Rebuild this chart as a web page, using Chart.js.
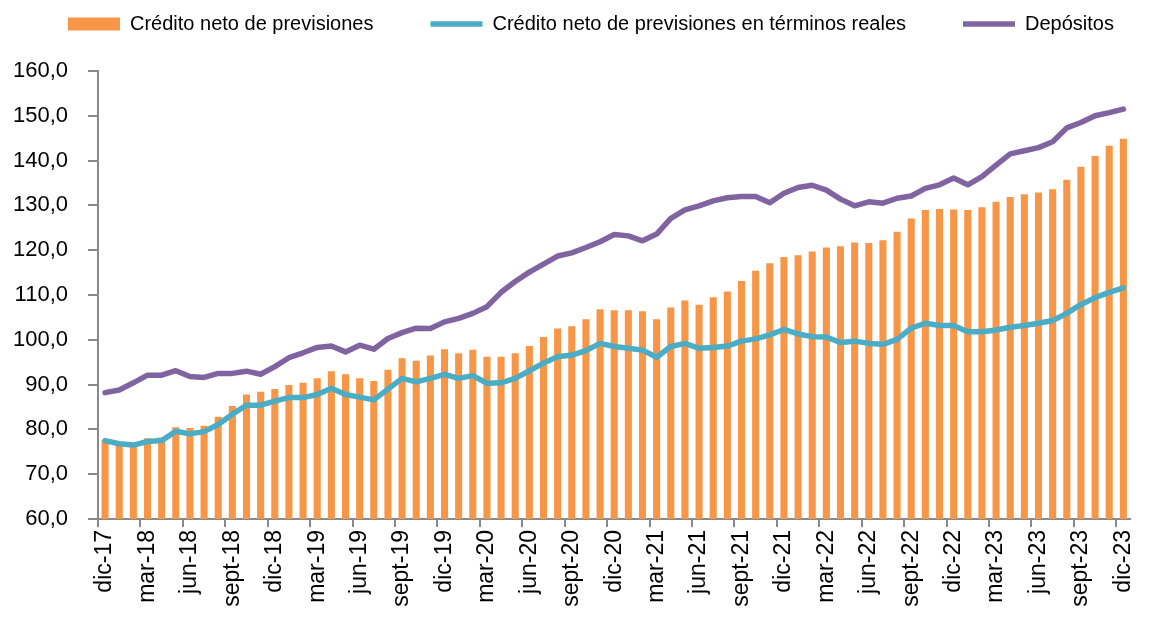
<!DOCTYPE html>
<html>
<head>
<meta charset="utf-8">
<script src="https://cdn.jsdelivr.net/npm/chart.js@4.4.1/dist/chart.umd.min.js"></script>
<style>
	html, body { margin: 0; padding: 0; background: #fff; }
	#wrap { width: 1154px; height: 621px; }
</style>
</head>
<body>
<div id="wrap"><canvas id="chart-1"></canvas></div>
<script>
const months = [
	"dic-17", "ene-18", "feb-18", "mar-18", "abr-18", "may-18", "jun-18", "jul-18", "ago-18", "sept-18", "oct-18", "nov-18",
	"dic-18", "ene-19", "feb-19", "mar-19", "abr-19", "may-19", "jun-19", "jul-19", "ago-19", "sept-19", "oct-19", "nov-19",
	"dic-19", "ene-20", "feb-20", "mar-20", "abr-20", "may-20", "jun-20", "jul-20", "ago-20", "sept-20", "oct-20", "nov-20",
	"dic-20", "ene-21", "feb-21", "mar-21", "abr-21", "may-21", "jun-21", "jul-21", "ago-21", "sept-21", "oct-21", "nov-21",
	"dic-21", "ene-22", "feb-22", "mar-22", "abr-22", "may-22", "jun-22", "jul-22", "ago-22", "sept-22", "oct-22", "nov-22",
	"dic-22", "ene-23", "feb-23", "mar-23", "abr-23", "may-23", "jun-23", "jul-23", "ago-23", "sept-23", "oct-23", "nov-23",
	"dic-23"
];

const creditoNeto = [
	77.6, 76.5, 76.7, 78.0, 78.2, 80.5, 80.3, 80.8, 82.8, 85.2, 87.8, 88.4,
	89.0, 89.9, 90.4, 91.4, 93.0, 92.3, 91.4, 90.8, 93.3, 95.9, 95.3, 96.5,
	97.9, 97.0, 97.8, 96.2, 96.2, 97.0, 98.6, 100.6, 102.5, 103.0, 104.6, 106.8,
	106.6, 106.6, 106.4, 104.6, 107.2, 108.8, 107.8, 109.5, 110.8, 113.1, 115.4, 117.1,
	118.5, 118.9, 119.7, 120.6, 120.9, 121.7, 121.6, 122.2, 124.1, 127.1, 129.0, 129.2,
	129.1, 129.0, 129.6, 130.8, 131.9, 132.5, 132.9, 133.6, 135.7, 138.6, 141.0, 143.3,
	144.9
];

const creditoReal = [
	77.5, 76.8, 76.5, 77.3, 77.5, 79.6, 79.0, 79.5, 81.1, 83.4, 85.4, 85.4,
	86.3, 87.1, 87.1, 87.8, 89.2, 87.8, 87.2, 86.6, 89.0, 91.4, 90.6, 91.4,
	92.3, 91.4, 92.0, 90.3, 90.4, 91.4, 93.1, 94.8, 96.2, 96.6, 97.6, 99.2,
	98.5, 98.1, 97.7, 96.1, 98.5, 99.2, 98.1, 98.3, 98.6, 99.7, 100.2, 101.1,
	102.3, 101.3, 100.7, 100.6, 99.4, 99.7, 99.2, 99.0, 100.1, 102.6, 103.7, 103.2,
	103.2, 101.8, 101.8, 102.2, 102.8, 103.2, 103.7, 104.3, 105.9, 107.9, 109.4, 110.6,
	111.6
];

const depositos = [
	88.2, 88.8, 90.4, 92.1, 92.1, 93.1, 91.8, 91.6, 92.5, 92.5, 93.0, 92.3,
	94.0, 96.0, 97.1, 98.3, 98.6, 97.3, 98.8, 97.9, 100.3, 101.6, 102.6, 102.5,
	104.0, 104.8, 105.9, 107.4, 110.6, 113.0, 115.1, 116.9, 118.7, 119.4, 120.6, 121.9,
	123.5, 123.2, 122.1, 123.6, 127.1, 129.0, 129.9, 131.0, 131.7, 132.0, 132.0, 130.6,
	132.7, 134.0, 134.5, 133.4, 131.4, 129.9, 130.8, 130.5, 131.6, 132.1, 133.8, 134.6,
	136.1, 134.6, 136.4, 139.0, 141.5, 142.2, 142.9, 144.2, 147.3, 148.5, 150.0, 150.7,
	151.5
];

const FONT = "'Liberation Sans', Arial, sans-serif";
const AXIS_GRAY = "#898989";

//one legend row, wide gaps, and a tall box so the plot starts where the original does
const legendFit = {
	id: "legendFit",
	beforeLayout(chart) {
		const legend = chart.legend;
		if (!legend || legend._patched) return;
		const fit = legend.fit;
		legend.fit = function () {
			const mw = this.maxWidth;
			this.maxWidth = 5000;//no wrapping
			fit.call(this);
			this.maxWidth = mw;
			this.width = mw;
			this.height = 114;
		};
		legend._patched = true;
	},
	afterLayout(chart) {
		chart.legend.left = 11;//first item starts at left + padding
		chart.legend.right = 5000;
	}
};

new Chart("chart-1", {
	type: "bar",
	data: {
		labels: months,
		datasets: [
			{
				label: "Crédito neto de previsiones",
				data: creditoNeto,
				backgroundColor: "#F79646",
				borderWidth: 0,
				barPercentage: 0.5,
				categoryPercentage: 1,
				pointStyle: "rect",
				order: 3
			},
			{
				type: "line",
				label: "Crédito neto de previsiones en términos reales",
				data: creditoReal,
				borderColor: "#4BACC6",
				backgroundColor: "#4BACC6",
				borderWidth: 5.5,
				borderCapStyle: "round",
				borderJoinStyle: "round",
				pointRadius: 0,
				pointStyle: "line",
				tension: 0,
				order: 2
			},
			{
				type: "line",
				label: "Depósitos",
				data: depositos,
				borderColor: "#8064A2",
				backgroundColor: "#8064A2",
				borderWidth: 5.5,
				borderCapStyle: "round",
				borderJoinStyle: "round",
				pointRadius: 0,
				pointStyle: "line",
				tension: 0,
				order: 1
			}
		]
	},
	options: {
		responsive: true,
		maintainAspectRatio: false,
		animation: false,
		layout: { padding: { top: -43, left: 0, right: 6, bottom: 0 } },
		plugins: {
			legend: {
				position: "top",
				align: "start",
				labels: {
					usePointStyle: true,
					pointStyleWidth: 52,
					boxHeight: 13,
					padding: 57,
					color: "#000",
					font: { family: FONT, size: 20 },
					sort: (a, b) => a.datasetIndex - b.datasetIndex
				}
			},
			tooltip: { enabled: false }
		},
		scales: {
			x: {
				offset: true,
				grid: {
					offset: true,
					drawOnChartArea: false,
					tickLength: 8,
					lineWidth: 2,
					tickColor: (ctx) => (ctx.index % 3 === 0 && ctx.index < months.length) ? AXIS_GRAY : "rgba(0,0,0,0)"
				},
				border: { color: AXIS_GRAY, width: 2 },
				ticks: {
					autoSkip: false,
					minRotation: 90,
					maxRotation: 90,
					padding: 3,
					color: "#000",
					font: { family: FONT, size: 23 },
					callback: (val, i) => i % 3 === 0 ? months[i] : ""
				},
				afterFit: (scale) => { scale.height = 102; }
			},
			y: {
				min: 60,
				max: 160,
				grid: {
					drawOnChartArea: false,
					tickLength: 10,
					lineWidth: 2,
					tickColor: AXIS_GRAY
				},
				border: { color: AXIS_GRAY, width: 2 },
				ticks: {
					stepSize: 10,
					padding: 20,
					color: "#000",
					font: { family: FONT, size: 22 },
					callback: (v) => v.toFixed(1).replace(".", ",")
				},
				afterFit: (scale) => { scale.width = 98; }
			}
		}
	},
	plugins: [legendFit]
});
</script>
</body>
</html>
